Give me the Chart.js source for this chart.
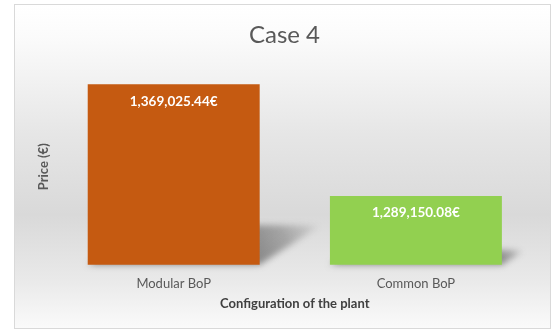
<!DOCTYPE html>
<html>
<head>
<meta charset="utf-8">
<title>Case 4</title>
<script src="https://cdn.jsdelivr.net/npm/chart.js@4.4.1/dist/chart.umd.min.js"></script>
<style>
  html, body { margin: 0; padding: 0; background: #ffffff; }
  #box {
    position: absolute;
    left: 14px;
    top: 4px;
    width: 537px;
    height: 325px;
    box-sizing: border-box;
    border: 1px solid #d9d9d9;
    background: linear-gradient(to bottom, #ffffff 0%, #fbfbfb 10%, #e6e6e6 40%, #d9d9d9 65%, #e9e9e9 85%, #fafafa 100%);
  }
  #chartCanvas { display: block; }
</style>
</head>
<body>
<div id="box">
  <canvas id="chartCanvas" width="535" height="323"></canvas>
</div>
<script>
var configurations = ["Modular BoP", "Common BoP"];
var prices = [1369025.44, 1289150.08];
var barColors = ["#C55A11", "#92D050"];
var priceMin = 1240000;
var priceMax = 1380000;

function euro(v) {
  return v.toLocaleString("en-US", { minimumFractionDigits: 2, maximumFractionDigits: 2 }) + "€";
}

// floor shadow thrown up and to the right of each bar.
// the shape is drawn far off canvas and only its blurred shadow lands on the chart
var barShadow = {
  id: "barShadow",
  beforeDatasetsDraw: function (chart) {
    var ctx = chart.ctx;
    var bars = chart.getDatasetMeta(0).data;
    var yScale = chart.scales.y;
    var floor = yScale.getPixelForValue(yScale.min);
    var off = 2000;
    ctx.save();
    ctx.shadowColor = "rgba(60,60,60,1)";
    ctx.shadowBlur = 6;
    ctx.shadowOffsetX = off;
    for (var i = 0; i < bars.length; i++) {
      var p = bars[i].getProps(["x", "y", "width"], true);
      var left = p.x - p.width / 2 - off;
      var right = p.x + p.width / 2 - off;
      var h = floor - p.y;
      var dx = h * 0.34, dy = h * 0.22;
      var g = ctx.createLinearGradient(right, floor, right + dx, floor - dy);
      g.addColorStop(0, "rgba(0,0,0,0.55)");
      g.addColorStop(0.5, "rgba(0,0,0,0.35)");
      g.addColorStop(1, "rgba(0,0,0,0.03)");
      ctx.fillStyle = g;
      ctx.beginPath();
      ctx.moveTo(left, floor);
      ctx.lineTo(right, floor);
      ctx.lineTo(right + dx, floor - dy);
      ctx.lineTo(left + dx, floor - dy);
      ctx.closePath();
      ctx.fill();
    }
    ctx.restore();
  }
};

// value written inside the top of each bar
var barValues = {
  id: "barValues",
  afterDatasetsDraw: function (chart) {
    var ctx = chart.ctx;
    var bars = chart.getDatasetMeta(0).data;
    var values = chart.data.datasets[0].data;
    ctx.save();
    ctx.font = "bold 13.5px Lato";
    ctx.fillStyle = "#ffffff";
    ctx.textAlign = "center";
    ctx.textBaseline = "middle";
    for (var i = 0; i < bars.length; i++) {
      ctx.fillText(euro(values[i]), bars[i].x, bars[i].y + 17);
    }
    ctx.restore();
  }
};

var ctx = document.getElementById("chartCanvas");

var data = {
  labels: configurations,
  datasets: [
    {
      label: "Price",
      data: prices,
      backgroundColor: barColors,
      borderWidth: 0,
      categoryPercentage: 1,
      barPercentage: 0.71
    }
  ]
};

var options = {
  responsive: false,
  animation: false,
  layout: {
    padding: { top: 0, left: 17, right: 13, bottom: 12 }
  },
  plugins: {
    legend: { display: false },
    tooltip: { enabled: false },
    title: {
      display: true,
      text: "Case 4",
      color: "#595959",
      font: { family: "Lato", size: 24, weight: "normal" },
      padding: { top: 16, bottom: 19 }
    }
  },
  scales: {
    x: {
      grid: { display: false, drawTicks: false },
      border: { display: false },
      ticks: {
        color: "#595959",
        font: { family: "Lato", size: 13 },
        padding: 11
      },
      title: {
        display: true,
        text: "Configuration of the plant",
        color: "#404040",
        font: { family: "Lato", size: 13, weight: "bold" },
        padding: { top: -6, bottom: 4 }
      }
    },
    y: {
      min: priceMin,
      max: priceMax,
      grid: { display: false, drawTicks: false },
      border: { display: false },
      ticks: { display: false },
      title: {
        display: true,
        text: "Price (€)",
        color: "#595959",
        font: { family: "Lato", size: 13, weight: "bold" },
        padding: { top: 4, bottom: 1 }
      }
    }
  }
};

var chart = new Chart(ctx, {
  type: "bar",
  data: data,
  options: options,
  plugins: [barShadow, barValues]
});
</script>
</body>
</html>
